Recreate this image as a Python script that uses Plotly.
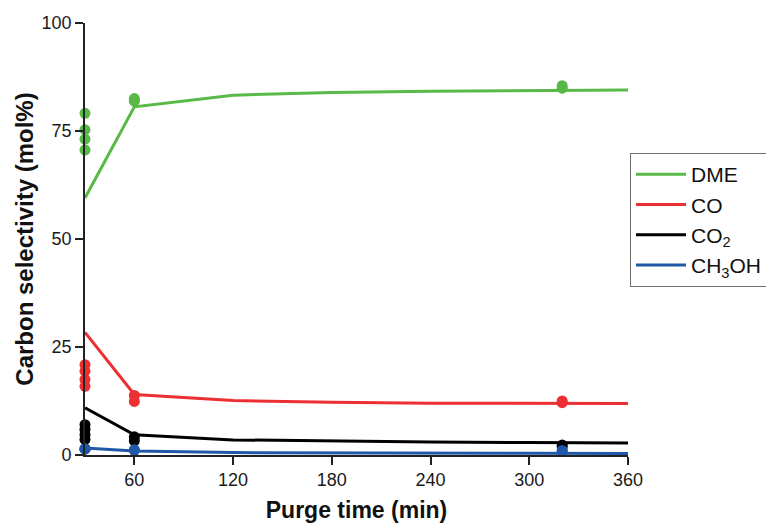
import plotly.graph_objects as go

# Purge time (min) for the model curves and for the measured points
t_model = [30, 60, 120, 180, 240, 300, 360]

# Model curves: carbon selectivity (mol%)
dme_model = [59.5, 80.6, 83.3, 83.9, 84.2, 84.4, 84.5]
co_model = [28.4, 14.0, 12.6, 12.2, 12.0, 11.9, 11.9]
co2_model = [10.9, 4.7, 3.5, 3.2, 3.0, 2.9, 2.8]
meoh_model = [1.6, 0.9, 0.55, 0.45, 0.4, 0.38, 0.35]

# Measured points
t_meas = [30, 30, 30, 30, 60, 60, 320, 320]
dme_meas = [79.1, 75.3, 73.1, 70.6, 82.5, 81.9, 85.5, 84.9]
co_meas = [20.9, 19.4, 17.5, 15.9, 13.8, 12.4, 12.5, 12.1]
co2_meas = [7.0, 5.9, 4.7, 3.6, 4.2, 3.3, 2.3, 1.9]
meoh_meas = [1.4, 1.4, 1.4, 1.4, 1.2, 1.1, 1.0, 1.0]

x_ticks = [60, 120, 180, 240, 300, 360]
y_ticks = [0, 25, 50, 75, 100]

series = [
    ("DME", dme_model, dme_meas, "#58B947"),
    ("CO", co_model, co_meas, "#EC2F33"),
    ("CO<sub>2</sub>", co2_model, co2_meas, "#000000"),
    ("CH<sub>3</sub>OH", meoh_model, meoh_meas, "#1F58A8"),
]

FONT = "Arial, Liberation Sans, sans-serif"

fig = go.Figure()
for name, model, meas, color in series:
    fig.add_trace(go.Scatter(
        x=t_meas, y=meas, mode="markers",
        marker=dict(color=color, size=11, line=dict(width=0)),
        showlegend=False, cliponaxis=False,
    ))
for name, model, meas, color in series:
    fig.add_trace(go.Scatter(
        x=t_model, y=model, mode="lines", name=name,
        line=dict(color=color, width=3),
        cliponaxis=False,
    ))

fig.update_layout(
    width=766, height=525,
    margin=dict(l=85, r=138, t=23, b=70),
    paper_bgcolor="white", plot_bgcolor="white",
    font=dict(family=FONT, color="#1a1a1a"),
    legend=dict(
        xref="container", yref="container",
        x=630 / 766, y=1 - 153 / 525, xanchor="left", yanchor="top",
        bordercolor="#6f6f6f", borderwidth=1,
        font=dict(size=21, color="#111", family=FONT),
        itemwidth=50, entrywidth=140,
    ),
    xaxis=dict(
        range=[30, 360], tickvals=x_ticks, automargin=False,
        showline=True, linecolor="#222", linewidth=1.6,
        ticks="outside", ticklen=8, tickwidth=1.5, tickcolor="#222",
        showgrid=False, zeroline=False,
        tickfont=dict(size=18, family=FONT, color="#1a1a1a"),
        title=dict(text="<b>Purge time (min)</b>", standoff=12,
                   font=dict(size=23, family=FONT, color="#111")),
    ),
    yaxis=dict(
        range=[0, 100], tickvals=y_ticks, automargin=False,
        showline=True, linecolor="#222", linewidth=1.6,
        ticks="outside", ticklen=8, tickwidth=1.5, tickcolor="#222",
        showgrid=False, zeroline=False,
        tickfont=dict(size=18, family=FONT, color="#1a1a1a"),
        title=dict(text="<b>Carbon selectivity (mol%)</b>", standoff=1,
                   font=dict(size=24, family=FONT, color="#111")),
    ),
)

fig.write_html("out.html")
